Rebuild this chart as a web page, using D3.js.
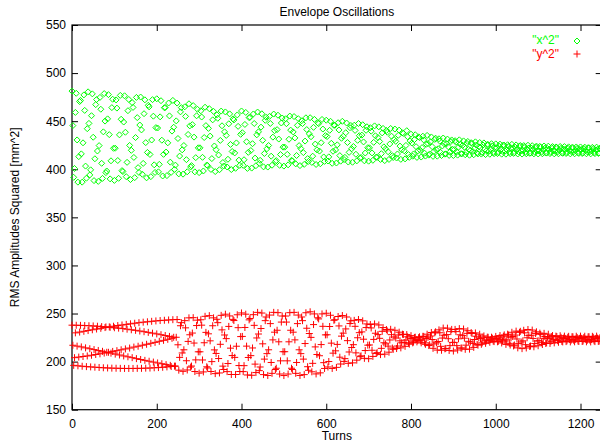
<!DOCTYPE html>
<html>
<head>
<meta charset="utf-8" />
<script src="https://cdn.jsdelivr.net/npm/d3@7"></script>
<style>
  body { margin: 0; background: #fff; }
  text { font-family: "Liberation Sans", Arial, Helvetica, sans-serif; font-size: 12px; }
</style>
</head>
<body>
<div id="chart"></div>
<script>
// Chart data, one sample every turnStep turns
var turnStep = 2;
var xTicks = [0, 200, 400, 600, 800, 1000, 1200];
var yTicks = [150, 200, 250, 300, 350, 400, 450, 500, 550];
var seriesNames = ['"x^2"', '"y^2"'];

var x2Values = [
    481.3, 445.4, 391.6, 400.8, 459.1, 479, 430.5, 386.6, 413.1, 470.4,
    471.6, 416, 386.6, 427.5, 477.3, 461.2, 403.3, 390.7, 442.2, 480.5,
    447.7, 394.1, 399.4, 455.7, 478.4, 433.3, 388.2, 410.9, 467.2, 472.5,
    419, 387.4, 424.6, 474.7, 462.4, 406.2, 390.5, 438.9, 478.7, 450.1,
    396.5, 398.2, 452.4, 477.6, 436, 390, 408.8, 464.1, 472.8, 421.8,
    388.4, 421.9, 472.1, 463.6, 409.1, 390.6, 435.8, 476.8, 452, 398.6,
    397.6, 449.1, 476.4, 438.5, 392.3, 407.2, 460.9, 472.6, 424.8, 389.3,
    419.7, 469.3, 464.3, 412.3, 391.3, 433, 474.7, 453.7, 401.7, 396.7,
    446, 475.1, 440.9, 394.8, 406.1, 457.8, 472.2, 427.7, 391.1, 417.5,
    466.5, 464.9, 415.4, 392.3, 430.4, 472.4, 455.2, 404.6, 396.7, 443.3,
    473.3, 442.9, 397.3, 405.1, 454.5, 471.3, 430.2, 393, 415.5, 464,
    464.2, 417.9, 393.4, 427.5, 468.9, 455.5, 407.4, 396.8, 439.7, 471.6,
    443.7, 399.9, 404.3, 450.3, 468.8, 432, 395.2, 413.7, 459.7, 464.1,
    420.2, 394.9, 424.7, 464.9, 455, 410, 397.4, 436.2, 468.1, 445.1,
    402.4, 403.8, 446.4, 466.2, 433.4, 397.3, 412.1, 455.6, 462.4, 422.3,
    396.5, 422.3, 460.8, 454.3, 412.4, 398.2, 433, 464.5, 445.4, 404.4,
    403.8, 442.5, 463, 434.5, 399.8, 411.1, 451.4, 460.2, 424.2, 397.6,
    420.3, 456.6, 453, 414.8, 399.5, 430, 460.5, 445.2, 407, 403.4,
    438.9, 459.6, 435.2, 402.4, 410.4, 447.3, 457.6, 425.8, 399.7, 418.5,
    452.4, 451.3, 417, 401, 427.4, 456.5, 444.6, 409.5, 404.1, 436.3,
    460.6, 438, 404.1, 409.9, 446.6, 459.1, 428.6, 400.9, 417.6, 453.7,
    454, 419.5, 401.2, 426.6, 457.5, 447.6, 411.6, 403.7, 435.8, 459.5,
    438.9, 406.1, 409.3, 443.8, 457.7, 430.1, 402.5, 416.4, 450.9, 454.1,
    421.3, 402.3, 424.7, 455, 447.6, 413.6, 404.2, 433.4, 457.4, 440.1,
    408, 409, 441.2, 456.2, 431.4, 404.1, 415.3, 448.1, 453.3, 423,
    403.3, 423, 452.5, 447.4, 415.5, 404.6, 431.2, 455.3, 440.7, 409.3,
    408.7, 438.8, 454.8, 432.6, 405.6, 414.3, 445.7, 452.6, 424.6, 403.8,
    421.5, 450.4, 447.5, 417.3, 405.1, 429.3, 453.5, 441.3, 411.1, 408.2,
    436.8, 453.6, 433.8, 407.1, 413.6, 443.6, 451.9, 426.2, 405, 420.2,
    448.3, 447.4, 418.9, 405.7, 427.6, 451.8, 441.8, 412.8, 408.2, 435,
    451, 434, 408.6, 412.9, 440.5, 449.9, 427, 406.2, 418.7, 445.8,
    445.7, 420.1, 406.5, 425.4, 448.4, 440.9, 414.2, 408.4, 432.2, 449.9,
    434.3, 410.1, 412.4, 438, 448.1, 427.8, 407.5, 417.6, 443.2, 445.5,
    421.3, 407.3, 423.7, 445.8, 440.4, 415.6, 408.7, 430.1, 447.6, 434.9,
    411.5, 412.3, 435.5, 446.3, 428.4, 408.8, 416.9, 440.5, 444.2, 422.4,
    408.4, 422.3, 443.2, 439.6, 417, 409.3, 428, 445.1, 434.8, 412.7,
    412.4, 433, 444.1, 428.9, 410.2, 416.2, 437.8, 442.5, 423.3, 409,
    421.2, 440.4, 438.5, 418.2, 410.2, 426.3, 442.4, 434.4, 414.1, 412.2,
    430.9, 441.8, 429, 411.7, 415.9, 435.3, 440.7, 424.1, 410.3, 420.2,
    437.9, 437.3, 419.2, 410.8, 424.8, 440.1, 433.8, 415.3, 412.4, 429.5,
    436.5, 427.3, 413.6, 415.9, 430.8, 435.9, 423.5, 412.3, 419.1, 433.7,
    433, 419.7, 412.7, 422.5, 434.4, 430.5, 416.7, 413.7, 426, 435.2,
    426.7, 414.7, 415.9, 428.5, 433.6, 423.5, 413.4, 418.5, 431.1, 432.3,
    420.2, 413.6, 421.3, 431.7, 429.2, 417.5, 414.3, 424.3, 432.5, 426.6,
    415.7, 416, 426.5, 431.4, 423.4, 414.4, 418.1, 428.8, 430.5, 420.6,
    414.3, 420.5, 429.7, 428.1, 418.1, 414.7, 423, 430.6, 426, 416.2,
    416, 424.9, 429.5, 423, 415.1, 417.7, 426.9, 428.9, 420.7, 414.6,
    419.7, 427.6, 426.8, 418.5, 415.1, 421.8, 428.5, 425.1, 416.8, 416,
    423.4, 427.8, 422.7, 415.8, 417.5, 425.2, 427.4, 420.7, 415.3, 419.2,
    425.8, 425.6, 418.8, 415.6, 420.8, 426.6, 424.3, 417.3, 416.2, 422.6,
    426.4, 422.3, 416.3, 417.3, 423.9, 426.1, 420.7, 415.7, 418.7, 425.2,
    424.9, 418.9, 415.7, 420.2, 425.5, 423.8, 417.6, 416.2, 421.8, 425.9,
    422.1, 416.5, 417.1, 422.9, 425.3, 420.6, 415.9, 418.3, 424.1, 424.7,
    419, 415.8, 419.5, 424.6, 423.3, 417.7, 416.1, 421, 425, 422.1,
    416.6, 416.8, 422.1, 424.5, 420.5, 416, 417.8, 423.2, 424.1, 419.1,
    415.9, 419.1, 423.8, 423, 417.8, 416.1, 420.4, 424.2, 421.9, 416.9,
    416.8, 421.5, 424, 420.5, 416.3, 417.6, 422.5, 423.6, 419.3, 416,
    418.7, 423.2, 422.7, 418, 416.1, 419.9, 423.7, 421.8, 417.1, 416.6,
    421, 423.6, 420.5, 416.4, 417.4, 422, 423.3, 419.3, 416, 418.4,
    422.7, 422.6, 418.1, 416.1, 419.5, 423.2, 421.7, 417.2, 416.5, 420.6,
    423.2, 420.5, 416.4, 417.1, 421.5, 423, 419.4, 416.1, 418.1, 422.4,
    422.3, 418.2, 416, 419.1, 422.8, 421.6, 417.3, 416.3, 420.2, 423,
    420.6, 416.5, 416.9, 421.2, 422.9
];

var y2Values = [
    237.9, 217, 196.1, 204.1, 229.9, 237.8, 216.1, 195.6, 204.7, 230.7,
    237.7, 215.3, 195.2, 205.3, 231.5, 237.5, 214.3, 194.8, 205.9, 232.3,
    237.3, 213.4, 194.5, 206.6, 233.1, 237.1, 212.5, 194.2, 207.4, 233.9,
    236.8, 211.6, 193.9, 208.1, 234.6, 236.4, 210.7, 193.6, 208.9, 235.4,
    236.1, 209.7, 193.4, 209.7, 236.1, 235.7, 208.8, 193.2, 210.6, 236.8,
    235.2, 207.8, 193.1, 211.4, 237.5, 234.8, 206.9, 193, 212.3, 238.1,
    234.3, 205.9, 192.9, 213.2, 238.7, 233.7, 205, 192.9, 214.1, 239.3,
    233.1, 204.1, 192.9, 215.1, 239.9, 232.5, 203.1, 193, 216, 240.5,
    231.8, 202.2, 193, 217, 241, 231.1, 201.3, 193.2, 218, 241.4,
    230.4, 200.4, 193.3, 219, 241.9, 229.6, 199.5, 193.6, 220, 242.3,
    228.8, 198.6, 193.8, 221.1, 242.7, 228, 197.8, 194.1, 222.1, 243,
    227.1, 196.9, 194.5, 223.2, 243.3, 226.2, 196.1, 194.9, 224.2, 243.6,
    225.3, 195.3, 195.3, 225.3, 243.8,
    217.5, 191.1, 204.4, 237.3, 240.5, 209, 189.9, 212.3, 242.6, 235.1,
    200.9, 191.3, 221, 245.5, 227.9, 194.3, 195.4, 229.7, 245.7, 219.3,
    189.7, 201.8, 237.5, 243.1, 210.2, 188, 210.2, 243.5, 237.9, 201.7,
    189.3, 219.6, 247.1, 230.4, 194.6, 193.4, 228.9, 247.8, 221.6, 189.7,
    200, 237.3, 245.5, 212.2, 187.5, 208.5, 244, 240.5, 203.2, 188.2,
    218, 248.1, 233, 195.3, 191.8, 227.7, 249.3, 223.9, 189.6, 198,
    236.6, 247.5, 214, 186.6, 206.3, 243.9, 242.7, 204.4, 186.6, 216,
    248.7, 235.3, 195.9, 189.7, 226, 250.6, 226.2, 189.6, 195.8, 235.5,
    249.3, 216.1, 186.1, 204.3, 243.4, 244.8, 206.2, 185.8, 214.2, 248.8,
    237.7, 197.4, 188.6, 224.6, 251.2, 228.7, 190.6, 194.4, 234.4, 250.5,
    218.5, 186.5, 202.6, 242.6, 246.4, 208.3, 185.6, 212.3, 248.4, 239.5,
    199.1, 187.8, 222.6, 251.2, 230.6, 191.8, 193.1, 232.6, 250.9, 220.6,
    187.1, 200.8, 241.1, 247.4, 210.3, 185.5, 210.3, 247.4, 241.1, 200.8,
    187.1, 220.6, 250.9, 232.6, 193.1, 191.8, 230.6, 251.2, 222.6, 187.8,
    199.1, 239.5, 248.4, 212.3, 185.6, 208.3, 246.4, 242.6, 202.6, 186.5,
    218.8, 250.8, 234.7, 194.7, 191, 229.2, 251.8, 225.2, 189.4, 198.2,
    238.5, 249.6, 215.3, 187.2, 207.4, 245.6, 244.4, 206.1, 188.3, 217.7,
    249.6, 236.7, 198.9, 192.9, 227.8, 250.3, 227.9, 194.4, 200.1, 236.5,
    248.2, 219.2, 192.9, 208.8, 243, 243.5, 211.2, 194, 217.9, 246.9,
    237.1, 204.6, 197.5, 226.5, 247.9, 229.6, 200.2, 203.1, 234, 246.4,
    221.8, 198.2, 210, 239.6, 242.4, 214.7, 198.7, 217.6, 242.9, 236.7,
    209.1, 201.5, 224.8, 243.8, 230.1, 205.2, 206, 230.9, 242.4, 223.3,
    203.4, 211.5, 235.4, 239.2, 217.1,
    203, 217.3, 238.6, 235, 211.8, 205.4, 223.1, 239.2, 229.5, 208.5,
    209.3, 228.1, 238.1, 224.2, 207.3, 213.8, 231.5, 235.4, 219.6, 207.8,
    218.4, 233.4, 231.9, 216.1, 209.8, 222.5, 233.6, 228, 214.1, 212.8,
    225.7, 232.6, 224.5, 213.6, 216.2, 227.7, 230.6, 221.6, 214.3, 219.6,
    228.5, 228.2, 219.8, 215.9, 222.4, 228.1, 225.8, 219.1, 218.1, 224.3,
    227, 224, 219.5, 220.3, 225.1, 225.4, 222.8, 220.5, 221.9, 224.9,
    225.8, 221.7, 219.5, 222.6, 226.3, 226.2, 219.5, 218, 224, 228.5,
    225.3, 216.7, 217.5, 226.6, 230.3, 223, 213.8, 218.4, 229.9, 231,
    219.6, 212, 220.9, 233, 230, 215.9, 211.8, 224.5, 234.9, 227.4,
    213.3, 213.7, 228.1, 234.8, 223.8, 211.6, 216.6, 231.2, 233.5, 220,
    211, 220, 233.5, 231.2, 216.6, 212.1, 223.7, 234.3, 227.9, 214.1,
    214.1, 227, 233.9, 224.4, 212.8, 217.1, 229.4, 232.1, 221.1, 213,
    220.4, 230.2, 229.2, 218.9, 214.8, 223, 229.8, 226.4, 217.9, 217.1,
    224.7, 228.5, 224, 218, 219.5, 225.4, 226.7, 222.5, 219, 221.5,
    225.4, 225.3, 221.7, 220.1, 222.8, 225.4, 224.3, 221.3, 220.8, 223.6,
    226.2, 223.9, 220.6, 221.1, 224.8, 227.1, 223.1, 219.4, 221.6, 226.4,
    227.8, 221.4, 217.9, 222.7, 228.5, 227.6, 219, 217.2, 224.8, 230.5,
    226.1, 216.3, 217.3, 227.6, 231.7, 223.5, 214.3, 218.9, 230.4, 231.5,
    220.4, 213.5, 221.6, 232.6, 229.9, 217.6, 214.2, 224.8, 233.4, 227.2,
    215.8, 216.2, 227.5, 232.8, 224.1, 215.4, 218.9, 229.3, 231, 221.4,
    216.5, 221.8, 229.6, 228.3, 219.7, 217.8, 223.9, 229.4, 226.1, 218.9,
    219.5, 225.3, 228.5, 224.1, 218.9, 221.1, 226, 227.1, 222.8, 219.5,
    222.4, 226.5, 226.1, 221.8, 220.1, 223.5, 226.9, 225.2, 221, 220.5,
    224.4, 226.5, 224.1, 220.8, 221.6, 225.3, 226.3, 223.1, 220.5, 222.4,
    225.9, 225.8, 222.2, 220.6, 223.3, 226.4, 225.1, 221.4, 220.9, 224.2,
    226.5, 224.2, 220.9, 221.4, 225.1, 226.4, 223.3, 220.6, 222.2, 225.8,
    225.9, 222.4, 220.5, 223.1, 226.3, 225.3, 221.6, 220.8, 224.1, 226.5,
    224.4, 221, 221.3, 225, 226.4
];

var width = 600, height = 448;
var plotLeft = 72, plotRight = 601.7, plotTop = 25, plotBottom = 409.7;

var x = d3.scaleLinear().domain([0, 1250]).range([plotLeft, plotRight]);
var y = d3.scaleLinear().domain([150, 550]).range([plotBottom, plotTop]);

var svg = d3.select('#chart')
    .append('svg')
    .attr('width', width)
    .attr('height', height)
    .style('background', '#fff');

// gnuplot style: inward ticks on all four sides
svg.append('g')
    .attr('transform', 'translate(' + plotLeft + ',0)')
    .call(d3.axisLeft(y).tickValues(yTicks).tickSizeInner(-6).tickSizeOuter(0).tickPadding(6).tickFormat(d3.format('d')));
svg.append('g')
    .attr('transform', 'translate(' + plotRight + ',0)')
    .call(d3.axisRight(y).tickValues(yTicks).tickSizeInner(-6).tickSizeOuter(0).tickFormat(''));
svg.append('g')
    .attr('transform', 'translate(0,' + plotBottom + ')')
    .call(d3.axisBottom(x).tickValues(xTicks).tickSizeInner(-6).tickSizeOuter(0).tickPadding(10).tickFormat(d3.format('d')));
svg.append('g')
    .attr('transform', 'translate(0,' + plotTop + ')')
    .call(d3.axisTop(x).tickValues(xTicks).tickSizeInner(-6).tickSizeOuter(0).tickFormat(''));

svg.selectAll('.domain').remove();
svg.selectAll('.tick line').attr('stroke', '#000');
svg.selectAll('.tick text')
    .attr('fill', '#000')
    .style('font-size', '12px')
    .style('font-family', '"Liberation Sans", Arial, sans-serif');

svg.append('rect')
    .attr('x', plotLeft).attr('y', plotTop)
    .attr('width', plotRight - plotLeft).attr('height', plotBottom - plotTop)
    .attr('fill', 'none')
    .attr('stroke', '#000')
    .attr('stroke-width', 1.2);

// titles
svg.append('text')
    .attr('x', (plotLeft + plotRight) / 2).attr('y', 16)
    .attr('text-anchor', 'middle')
    .text('Envelope Oscillations');
svg.append('text')
    .attr('x', (plotLeft + plotRight) / 2).attr('y', 440)
    .attr('text-anchor', 'middle')
    .text('Turns');
svg.append('text')
    .attr('transform', 'translate(19,' + ((plotTop + plotBottom) / 2) + ') rotate(-90)')
    .attr('text-anchor', 'middle')
    .text('RMS Amplitudes Squared [mm^2]');

var diamond = 'M0,-3L3,0L0,3L-3,0Z';
var plus = 'M-3.5,0H3.5M0,-3.5V3.5';

// x^2 series
svg.append('g').selectAll('path')
    .data(x2Values)
    .enter()
    .append('path')
    .attr('transform', function (d, i) { return 'translate(' + x(i * turnStep) + ',' + y(d) + ')'; })
    .attr('d', diamond)
    .attr('fill', 'none')
    .attr('stroke', '#00ff00')
    .attr('stroke-width', 1);

// y^2 series
svg.append('g').selectAll('path')
    .data(y2Values)
    .enter()
    .append('path')
    .attr('transform', function (d, i) { return 'translate(' + x(i * turnStep) + ',' + y(d) + ')'; })
    .attr('d', plus)
    .attr('fill', 'none')
    .attr('stroke', '#ff0000')
    .attr('stroke-width', 1);

// legend
var legend = svg.append('g');
legend.append('text').attr('x', 559).attr('y', 44).attr('text-anchor', 'end')
    .attr('fill', '#00ff00').text(seriesNames[0]);
legend.append('path').attr('transform', 'translate(577,41)').attr('d', diamond)
    .attr('fill', 'none').attr('stroke', '#00ff00');
legend.append('text').attr('x', 559).attr('y', 58).attr('text-anchor', 'end')
    .attr('fill', '#ff0000').text(seriesNames[1]);
legend.append('path').attr('transform', 'translate(577,54)').attr('d', plus)
    .attr('fill', 'none').attr('stroke', '#ff0000');
</script>
</body>
</html>
